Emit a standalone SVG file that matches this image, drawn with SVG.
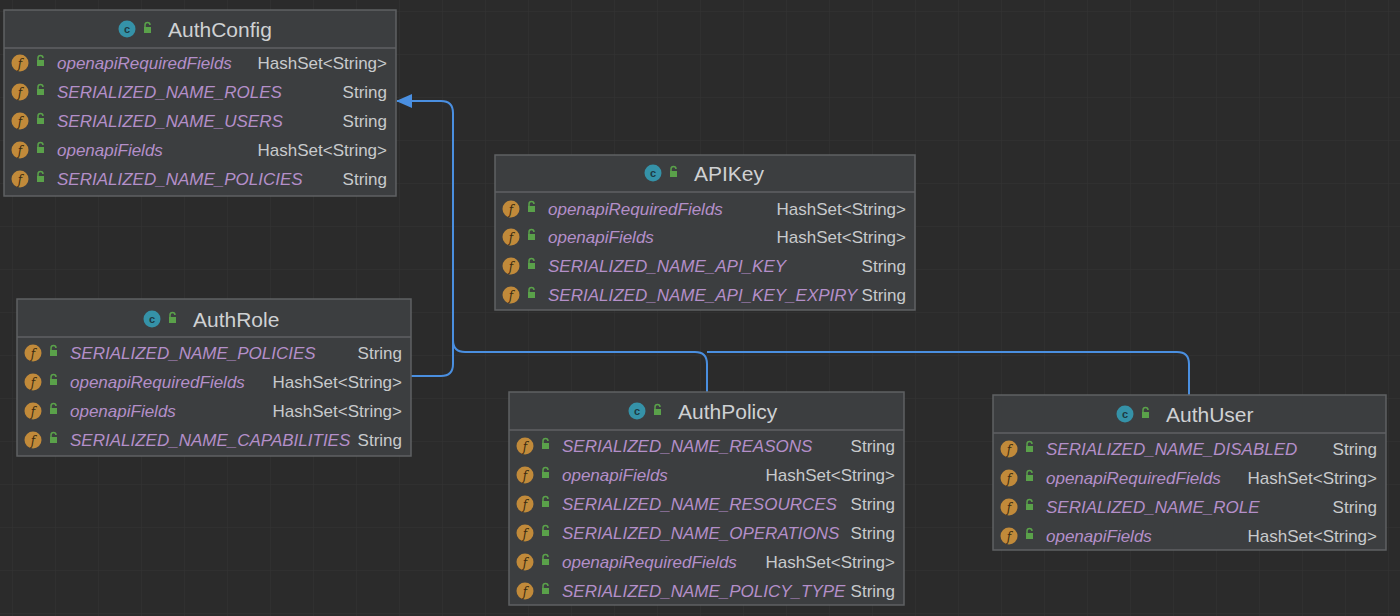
<svg xmlns="http://www.w3.org/2000/svg" width="1400" height="616" viewBox="0 0 1400 616">
<defs>
<pattern id="grid" width="43" height="43" patternUnits="userSpaceOnUse" x="13" y="12"><path d="M43 0V43H0" fill="none" stroke="#343434" stroke-width="1"/></pattern>
<marker id="arr" markerWidth="16" markerHeight="14" refX="15" refY="7" orient="auto" markerUnits="userSpaceOnUse"><path d="M0 0L16 7L0 14Z" fill="#4a8fe0"/></marker>
<g id="fi"><circle cx="0" cy="0" r="8.5" fill="#c18a3a"/><text x="0" y="4.5" font-size="12" text-anchor="middle" fill="#3a2a10" font-family="DejaVu Serif, serif" font-style="italic">f</text><rect x="17" y="-3" width="7" height="6" fill="#5aa14a"/><path d="M18 -3v-2a2.5 2.5 0 0 1 5 0" fill="none" stroke="#5aa14a" stroke-width="1.5"/></g>
<g id="ci"><circle cx="0" cy="0" r="8.5" fill="#3592a8"/><text x="0" y="4" font-size="11" text-anchor="middle" fill="#1d3a44" font-family="Liberation Sans, sans-serif" font-weight="bold">c</text><rect x="17" y="-2" width="7" height="6" fill="#5aa14a"/><path d="M18 -2v-2a2.5 2.5 0 0 1 5 0" fill="none" stroke="#5aa14a" stroke-width="1.5"/></g>
</defs>
<style>
.box{fill:#3c3e40;stroke:#5f6163;stroke-width:1.5}
.sep{stroke:#5f6163;stroke-width:1.5}
.t{font-family:"Liberation Sans",Arial,sans-serif;font-size:21px;fill:#cfd1d3}
.n{font-family:"Liberation Sans",Arial,sans-serif;font-size:17px;font-style:italic;fill:#b48fc9}
.ty{font-family:"Liberation Sans",Arial,sans-serif;font-size:17px;fill:#c8cacc;text-anchor:end}
.c{fill:none;stroke:#4a8fe0;stroke-width:2}
</style>
<rect width="1400" height="616" fill="#2b2b2b"/>
<rect width="1400" height="616" fill="url(#grid)"/>
<g id="connectors">
<path class="c" d="M411 376H441Q453 376 453 364V113Q453 101 441 101H397" marker-end="url(#arr)"/>
<path class="c" d="M707 392V364Q707 352 695 352H465Q453 352 453 340"/>
<path class="c" d="M1189 395V364Q1189 352 1177 352H707"/>
</g>
<g id="AuthConfig">
<rect class="box" x="4" y="10" width="392" height="186"/>
<line class="sep" x1="4" y1="48" x2="396" y2="48"/>
<use href="#ci" x="127" y="29"/><text class="t" x="168" y="37">AuthConfig</text>
<use href="#fi" x="20" y="63"/><text class="n" x="57" y="69">openapiRequiredFields</text><text class="ty" x="387" y="69">HashSet&lt;String&gt;</text>
<use href="#fi" x="20" y="92"/><text class="n" x="57" y="98">SERIALIZED_NAME_ROLES</text><text class="ty" x="387" y="98">String</text>
<use href="#fi" x="20" y="121"/><text class="n" x="57" y="127">SERIALIZED_NAME_USERS</text><text class="ty" x="387" y="127">String</text>
<use href="#fi" x="20" y="150"/><text class="n" x="57" y="156">openapiFields</text><text class="ty" x="387" y="156">HashSet&lt;String&gt;</text>
<use href="#fi" x="20" y="179"/><text class="n" x="57" y="185">SERIALIZED_NAME_POLICIES</text><text class="ty" x="387" y="185">String</text>
</g>
<g id="APIKey">
<rect class="box" x="495" y="155" width="420" height="155"/>
<line class="sep" x1="495" y1="192" x2="915" y2="192"/>
<use href="#ci" x="653" y="173"/><text class="t" x="694" y="181">APIKey</text>
<use href="#fi" x="511" y="209"/><text class="n" x="548" y="215">openapiRequiredFields</text><text class="ty" x="906" y="215">HashSet&lt;String&gt;</text>
<use href="#fi" x="511" y="237"/><text class="n" x="548" y="243">openapiFields</text><text class="ty" x="906" y="243">HashSet&lt;String&gt;</text>
<use href="#fi" x="511" y="266"/><text class="n" x="548" y="272">SERIALIZED_NAME_API_KEY</text><text class="ty" x="906" y="272">String</text>
<use href="#fi" x="511" y="295"/><text class="n" x="548" y="301">SERIALIZED_NAME_API_KEY_EXPIRY</text><text class="ty" x="906" y="301">String</text>
</g>
<g id="AuthRole">
<rect class="box" x="17" y="299" width="394" height="157"/>
<line class="sep" x1="17" y1="337" x2="411" y2="337"/>
<use href="#ci" x="152" y="319"/><text class="t" x="193" y="327">AuthRole</text>
<use href="#fi" x="33" y="353"/><text class="n" x="70" y="359">SERIALIZED_NAME_POLICIES</text><text class="ty" x="402" y="359">String</text>
<use href="#fi" x="33" y="382"/><text class="n" x="70" y="388">openapiRequiredFields</text><text class="ty" x="402" y="388">HashSet&lt;String&gt;</text>
<use href="#fi" x="33" y="411"/><text class="n" x="70" y="417">openapiFields</text><text class="ty" x="402" y="417">HashSet&lt;String&gt;</text>
<use href="#fi" x="33" y="440"/><text class="n" x="70" y="446">SERIALIZED_NAME_CAPABILITIES</text><text class="ty" x="402" y="446">String</text>
</g>
<g id="AuthPolicy">
<rect class="box" x="509" y="392" width="395" height="213"/>
<line class="sep" x1="509" y1="430" x2="904" y2="430"/>
<use href="#ci" x="637" y="411"/><text class="t" x="678" y="419">AuthPolicy</text>
<use href="#fi" x="525" y="446"/><text class="n" x="562" y="452">SERIALIZED_NAME_REASONS</text><text class="ty" x="895" y="452">String</text>
<use href="#fi" x="525" y="475"/><text class="n" x="562" y="481">openapiFields</text><text class="ty" x="895" y="481">HashSet&lt;String&gt;</text>
<use href="#fi" x="525" y="504"/><text class="n" x="562" y="510">SERIALIZED_NAME_RESOURCES</text><text class="ty" x="895" y="510">String</text>
<use href="#fi" x="525" y="533"/><text class="n" x="562" y="539">SERIALIZED_NAME_OPERATIONS</text><text class="ty" x="895" y="539">String</text>
<use href="#fi" x="525" y="562"/><text class="n" x="562" y="568">openapiRequiredFields</text><text class="ty" x="895" y="568">HashSet&lt;String&gt;</text>
<use href="#fi" x="525" y="591"/><text class="n" x="562" y="597">SERIALIZED_NAME_POLICY_TYPE</text><text class="ty" x="895" y="597">String</text>
</g>
<g id="AuthUser">
<rect class="box" x="993" y="395" width="393" height="155"/>
<line class="sep" x1="993" y1="433" x2="1386" y2="433"/>
<use href="#ci" x="1125" y="414"/><text class="t" x="1166" y="422">AuthUser</text>
<use href="#fi" x="1009" y="449"/><text class="n" x="1046" y="455">SERIALIZED_NAME_DISABLED</text><text class="ty" x="1377" y="455">String</text>
<use href="#fi" x="1009" y="478"/><text class="n" x="1046" y="484">openapiRequiredFields</text><text class="ty" x="1377" y="484">HashSet&lt;String&gt;</text>
<use href="#fi" x="1009" y="507"/><text class="n" x="1046" y="513">SERIALIZED_NAME_ROLE</text><text class="ty" x="1377" y="513">String</text>
<use href="#fi" x="1009" y="536"/><text class="n" x="1046" y="542">openapiFields</text><text class="ty" x="1377" y="542">HashSet&lt;String&gt;</text>
</g>
</svg>
